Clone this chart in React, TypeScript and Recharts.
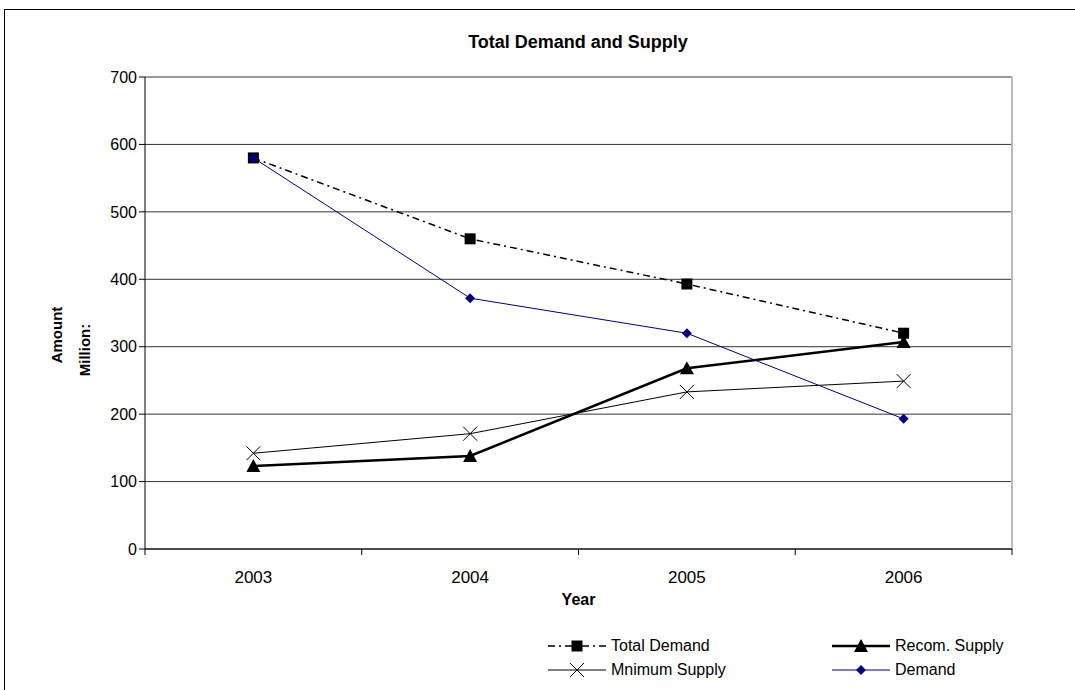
import { LineChart, Line, XAxis, YAxis, CartesianGrid, Legend } from 'recharts'

const years = ['2003', '2004', '2005', '2006']
const totalDemand = [580, 460, 393, 320]
const recomSupply = [123, 138, 268, 307]
const minimumSupply = [142, 171, 233, 249]
const demand = [580, 372, 320, 193]
const yTicks = [0, 100, 200, 300, 400, 500, 600, 700]

const data = years.map((year, i) => ({
  year,
  totalDemand: totalDemand[i],
  recomSupply: recomSupply[i],
  minimumSupply: minimumSupply[i],
  demand: demand[i],
}))

const FONT = '"Liberation Sans", Arial, sans-serif'
const NAVY = '#000080'
const CHART_W = 1075
const MARGIN = { top: 77, right: 63, left: 85, bottom: 71 }
const Y_AXIS_W = 60
const BAND = (CHART_W - MARGIN.left - Y_AXIS_W - MARGIN.right) / years.length

// marker shapes
const Square = ({ cx, cy }: any) => <rect x={cx - 5.5} y={cy - 5.5} width={11} height={11} fill="#000" />
const Triangle = ({ cx, cy }: any) => (
  <polygon points={`${cx},${cy - 7} ${cx + 7},${cy + 6} ${cx - 7},${cy + 6}`} fill="#000" />
)
const Cross = ({ cx, cy }: any) => (
  <g stroke="#000" strokeWidth={1}>
    <line x1={cx - 7} y1={cy - 7} x2={cx + 7} y2={cy + 7} />
    <line x1={cx - 7} y1={cy + 7} x2={cx + 7} y2={cy - 7} />
  </g>
)
const Diamond = ({ cx, cy }: any) => (
  <polygon points={`${cx},${cy - 5} ${cx + 5},${cy} ${cx},${cy + 5} ${cx - 5},${cy}`} fill={NAVY} />
)

const XTick = ({ x, y, payload, index }: any) => {
  const axisY = y - 8
  return (
    <g>
      <line x1={x - BAND / 2} y1={axisY} x2={x - BAND / 2} y2={axisY + 6} stroke="#000" />
      {index === years.length - 1 && (
        <line x1={x + BAND / 2} y1={axisY} x2={x + BAND / 2} y2={axisY + 6} stroke="#000" />
      )}
      <text x={x} y={axisY + 34} textAnchor="middle" fontSize={17} fontFamily={FONT} fill="#000">
        {payload.value}
      </text>
    </g>
  )
}

const legendItems = [
  { name: 'Total Demand', stroke: '#000', width: 1.5, dash: '7 4 2 4', Marker: Square },
  { name: 'Recom. Supply', stroke: '#000', width: 2.5, dash: undefined, Marker: Triangle },
  { name: 'Mnimum Supply', stroke: '#000', width: 1, dash: undefined, Marker: Cross },
  { name: 'Demand', stroke: NAVY, width: 1, dash: undefined, Marker: Diamond },
]

const LegendContent = () => (
  <div style={{ display: 'grid', gridTemplateColumns: '284px 200px', rowGap: 4, fontFamily: FONT, fontSize: 16 }}>
    {legendItems.map((it) => (
      <div key={it.name} style={{ display: 'flex', alignItems: 'center', height: 20 }}>
        <svg width={58} height={20}>
          <line x1={0} y1={10} x2={58} y2={10} stroke={it.stroke} strokeWidth={it.width} strokeDasharray={it.dash} />
          <it.Marker cx={29} cy={10} />
        </svg>
        <span style={{ marginLeft: 5, color: '#000' }}>{it.name}</span>
      </div>
    ))}
  </div>
)

const YLabel = ({ viewBox }: any) => {
  const cy = viewBox.y + viewBox.height / 2
  return (
    <g fontFamily={FONT} fontSize={15} fontWeight="bold" fill="#000">
      <text x={62} y={cy + 22} textAnchor="middle" transform={`rotate(-90, 62, ${cy + 22})`}>Amount</text>
      <text x={90} y={cy + 37} textAnchor="middle" transform={`rotate(-90, 90, ${cy + 37})`}>Million:</text>
    </g>
  )
}

export default function App() {
  return (
    <div style={{ position: 'absolute', left: 0, top: 0, width: 1075, height: 690, overflow: 'hidden', background: '#fff' }}>
      <div style={{ position: 'absolute', left: 4, top: 9, width: 1120, height: 720, border: '1px solid #000' }} />
      <div style={{ position: 'absolute', left: 0, top: 32, width: 1156, textAlign: 'center', fontFamily: FONT, fontSize: 18, fontWeight: 'bold' }}>
        Total Demand and Supply
      </div>
      <div style={{ position: 'absolute', left: 0, top: 0 }}>
        <LineChart width={CHART_W} height={690} data={data} margin={MARGIN}>
          <CartesianGrid vertical={false} stroke="#333" />
          <CartesianGrid
            horizontal={false}
            stroke="#bbb"
            strokeWidth={2}
            verticalCoordinatesGenerator={({ offset }: any) => [offset.left + offset.width]}
          />
          <XAxis
            dataKey="year"
            scale="band"
            height={70}
            tickLine={false}
            axisLine={{ stroke: '#000' }}
            tick={<XTick />}
            label={{ value: 'Year', position: 'insideBottom', offset: 14, fontFamily: FONT, fontSize: 16, fontWeight: 'bold', fill: '#000' }}
          />
          <YAxis
            width={Y_AXIS_W}
            domain={[0, 700]}
            ticks={yTicks}
            interval={0}
            axisLine={{ stroke: '#000' }}
            tickLine={{ stroke: '#000' }}
            tick={{ fontFamily: FONT, fontSize: 16, fill: '#000' }}
            label={<YLabel />}
          />
          <Legend
            layout="horizontal"
            verticalAlign="middle"
            align="center"
            content={<LegendContent />}
            wrapperStyle={{ top: 636, left: 548, width: 500 }}
          />
          <Line dataKey="totalDemand" name="Total Demand" stroke="#000" strokeWidth={1.5} strokeDasharray="7 4 2 4" dot={(p: any) => <Square key={p.index} {...p} />} isAnimationActive={false} />
          <Line dataKey="recomSupply" name="Recom. Supply" stroke="#000" strokeWidth={2.5} dot={(p: any) => <Triangle key={p.index} {...p} />} isAnimationActive={false} />
          <Line dataKey="minimumSupply" name="Mnimum Supply" stroke="#000" strokeWidth={1} dot={(p: any) => <Cross key={p.index} {...p} />} isAnimationActive={false} />
          <Line dataKey="demand" name="Demand" stroke={NAVY} strokeWidth={1} dot={(p: any) => <Diamond key={p.index} {...p} />} isAnimationActive={false} />
        </LineChart>
      </div>
    </div>
  )
}
